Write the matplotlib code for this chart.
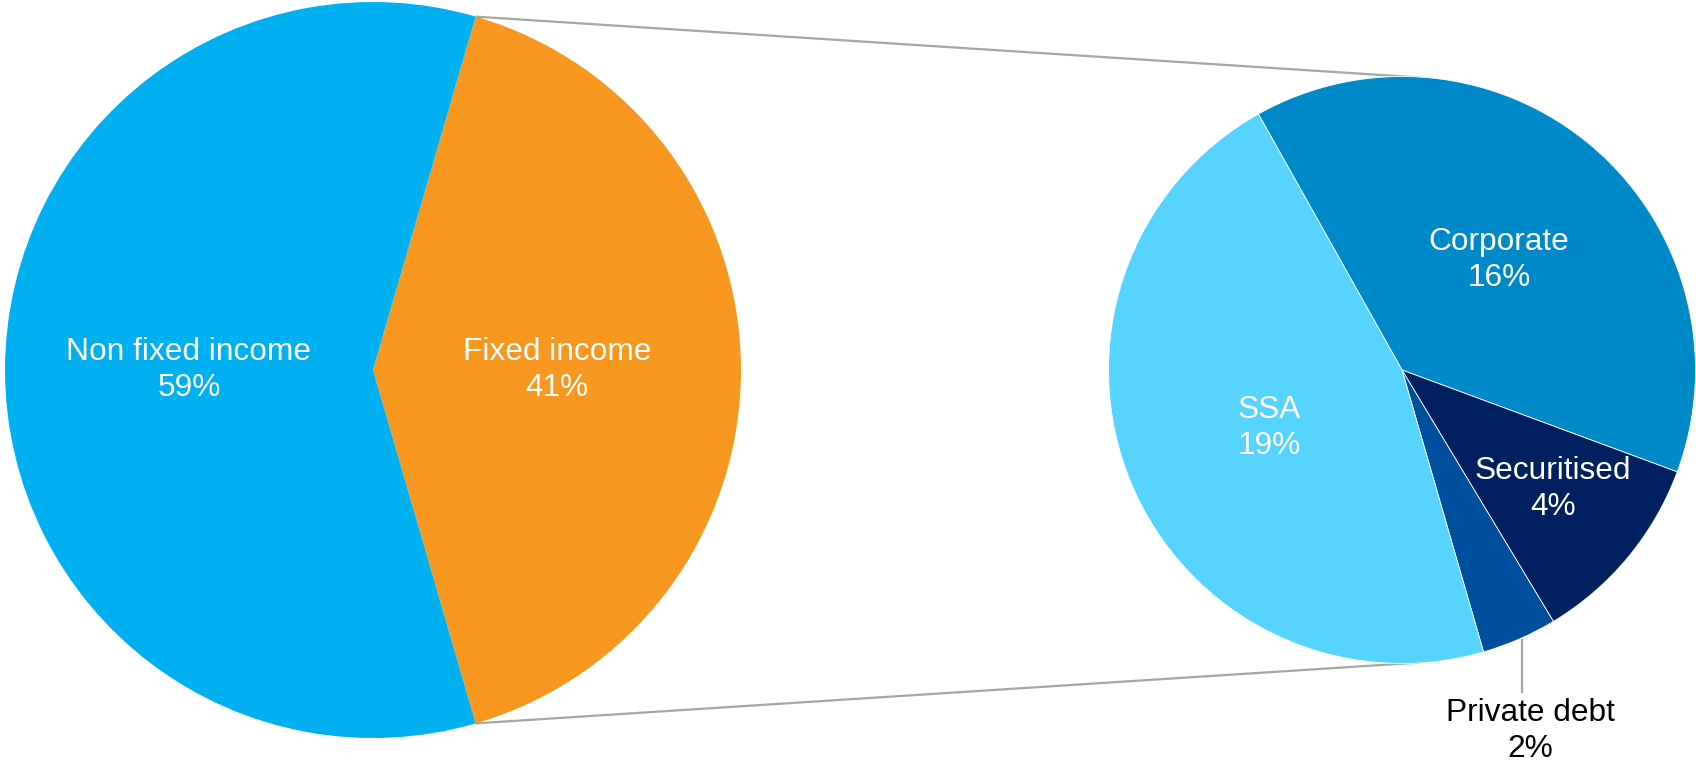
import matplotlib
matplotlib.use("Agg")
import matplotlib.pyplot as plt
import numpy as np

# data
main_labels = ["Fixed income", "Non fixed income"]
main_values = [41, 59]
main_colors = ["#F8971F", "#00B0F0"]

sub_labels = ["Corporate", "Securitised", "Private debt", "SSA"]
sub_values = [15.9, 4.4, 1.7, 19.0]
sub_colors = ["#0089C9", "#002060", "#004F9F", "#56D4FF"]

W, H = 1696, 762
FS = 22.8
plt.rcParams["font.family"] = ["Liberation Sans", "DejaVu Sans"]

fig = plt.figure(figsize=(W / 100, H / 100), dpi=100)
ax = fig.add_axes([0, 0, 1, 1])

# main pie: fixed income centred on the right side
left_c, left_r = (373, 392), 368
fi_share = main_values[0] / sum(main_values)
start = -180 * fi_share
ax.pie(main_values, colors=main_colors, startangle=start, counterclock=True,
       center=left_c, radius=left_r, wedgeprops=dict(linewidth=0))

# breakdown pie of the fixed income part
right_c, right_r = (1402, 392), 293.5
ax.pie(sub_values, colors=sub_colors, startangle=119.3, counterclock=False,
       center=right_c, radius=right_r,
       wedgeprops=dict(linewidth=0.6, edgecolor="white"))

# connector lines
a = np.deg2rad(180 * fi_share)
x0 = left_c[0] + left_r * np.cos(a)
for sgn in (1, -1):
    y0 = left_c[1] + sgn * left_r * np.sin(a)
    ax.plot([x0, right_c[0] + 18], [y0, right_c[1] + sgn * (right_r - 1)],
            color="#A6A6A6", lw=1.6, solid_capstyle="butt", zorder=0.5)

def lab(x, y, name, val, color="white"):
    ax.text(x, y, f"{name}\n{val:.0f}%", ha="center", va="center",
            fontsize=FS, color=color, linespacing=1.28)

lab(189, 392, main_labels[1], main_values[1])
lab(557, 392, main_labels[0], main_values[0])
lab(1499, 502, sub_labels[0], sub_values[0])
lab(1269, 334, sub_labels[3], sub_values[3])
lab(1553, 273, sub_labels[1], sub_values[1])
lab(1530, 31, sub_labels[2], sub_values[2], color="black")
ax.plot([1522, 1522], [122, 70], color="#A6A6A6", lw=1.6)

ax.set_xlim(0, W)
ax.set_ylim(0, H)
ax.set_aspect("equal")
ax.axis("off")

fig.savefig("out.png", dpi=100, facecolor="white")
